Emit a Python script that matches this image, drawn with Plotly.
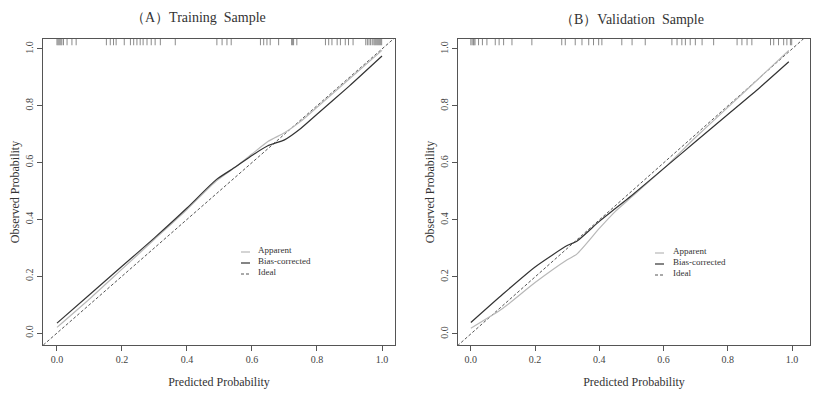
import plotly.graph_objects as go

# ---------------- data ----------------
a_x = [0.0, 0.1, 0.2, 0.3, 0.4, 0.49, 0.55, 0.6, 0.65, 0.7, 0.75, 0.8, 0.9, 1.0]
a_apparent = [0.02, 0.12, 0.225, 0.33, 0.435, 0.535, 0.585, 0.63, 0.675, 0.705, 0.745, 0.795, 0.895, 0.995]
a_bias = [0.035, 0.135, 0.235, 0.335, 0.44, 0.54, 0.585, 0.625, 0.66, 0.68, 0.72, 0.77, 0.87, 0.975]

b_x = [0.0, 0.1, 0.2, 0.3, 0.33, 0.4, 0.45, 0.5, 0.6, 0.7, 0.8, 0.9, 0.99]
b_apparent = [0.02, 0.09, 0.18, 0.26, 0.28, 0.37, 0.43, 0.48, 0.58, 0.69, 0.795, 0.9, 0.995]
b_bias = [0.04, 0.14, 0.235, 0.31, 0.325, 0.395, 0.44, 0.485, 0.58, 0.675, 0.77, 0.865, 0.955]

a_rug = [0.0, 0.003, 0.006, 0.009, 0.012, 0.015, 0.02, 0.031, 0.046, 0.059,
         0.152, 0.164, 0.174, 0.182, 0.207, 0.226, 0.236, 0.246, 0.256, 0.265,
         0.277, 0.29, 0.302, 0.318, 0.364, 0.492, 0.508, 0.523, 0.536,
         0.626, 0.636, 0.646, 0.656, 0.682, 0.722, 0.725, 0.728, 0.738,
         0.826, 0.836, 0.846, 0.862, 0.872, 0.887, 0.897, 0.911,
         0.95, 0.955, 0.96, 0.965, 0.97, 0.975, 0.978, 0.981, 0.984, 0.987,
         0.99, 0.993, 0.996, 0.999]
b_rug = [0.0, 0.004, 0.008, 0.01, 0.013, 0.024, 0.036, 0.05, 0.076, 0.088,
         0.102, 0.128, 0.19, 0.283, 0.294, 0.325, 0.346, 0.367, 0.382, 0.398,
         0.408, 0.47, 0.502, 0.543, 0.626, 0.642, 0.657, 0.668, 0.683, 0.699,
         0.72, 0.756, 0.829, 0.844, 0.86, 0.875, 0.933, 0.943, 0.958, 0.974,
         0.984, 0.995, 0.999]

ticks = [0.0, 0.2, 0.4, 0.6, 0.8, 1.0]
tick_text = ["0.0", "0.2", "0.4", "0.6", "0.8", "1.0"]
titles = ["（A）Training  Sample", "（B）Validation  Sample"]
legend_names = ["Apparent", "Bias-corrected", "Ideal"]

SERIF = "Liberation Serif, Times New Roman, serif"
W, H = 824, 396
C_APP = "#b8b8b8"
C_BIAS = "#333333"
C_IDEAL = "#555555"
DASH = "3px,2px"

fig = go.Figure()


def rug_xy(vals, y0, y1):
    xs, ys = [], []
    for v in vals:
        xs += [v, v, None]
        ys += [y0, y1, None]
    return xs, ys


panels = [
    dict(x=a_x, app=a_apparent, bias=a_bias, rug=a_rug, xa="x", ya="y",
         xr=[-0.043, 1.04], yr=[-0.042, 1.035]),
    dict(x=b_x, app=b_apparent, bias=b_bias, rug=b_rug, xa="x2", ya="y2",
         xr=[-0.04, 1.056], yr=[-0.039, 1.035]),
]

for p in panels:
    fig.add_trace(go.Scatter(x=[-0.1, 1.1], y=[-0.1, 1.1], mode="lines",
                             line=dict(color=C_IDEAL, width=1, dash=DASH),
                             name="Ideal", showlegend=False,
                             xaxis=p["xa"], yaxis=p["ya"]))
    fig.add_trace(go.Scatter(x=p["x"], y=p["app"], mode="lines",
                             line=dict(color=C_APP, width=1.2, shape="spline", smoothing=0.6),
                             name="Apparent", showlegend=False,
                             xaxis=p["xa"], yaxis=p["ya"]))
    fig.add_trace(go.Scatter(x=p["x"], y=p["bias"], mode="lines",
                             line=dict(color=C_BIAS, width=1.2, shape="spline", smoothing=0.6),
                             name="Bias-corrected", showlegend=False,
                             xaxis=p["xa"], yaxis=p["ya"]))
    rx, ry = rug_xy(p["rug"], 1.013, p["yr"][1])
    fig.add_trace(go.Scatter(x=rx, y=ry, mode="lines",
                             line=dict(color="#8a8a8a", width=1),
                             showlegend=False, hoverinfo="skip",
                             xaxis=p["xa"], yaxis=p["ya"]))

axis_common = dict(
    showgrid=False, zeroline=False, showline=True, mirror=True, automargin=False,
    linecolor="#555555", linewidth=1, ticks="outside", ticklen=5,
    tickcolor="#555555", tickvals=ticks, ticktext=tick_text,
    tickfont=dict(family=SERIF, size=10, color="#444444"),
)

x_domains = [[43 / W, 395 / W], [458 / W, 810 / W]]
y_domain = [1 - 345 / H, 1 - 39 / H]

layout = dict(
    width=W, height=H,
    margin=dict(l=0, r=0, t=0, b=0),
    paper_bgcolor="white", plot_bgcolor="white",
    font=dict(family=SERIF, color="#333333"),
    showlegend=False,
)

for i, p in enumerate(panels):
    xk = "xaxis" if i == 0 else "xaxis2"
    yk = "yaxis" if i == 0 else "yaxis2"
    layout[xk] = dict(axis_common, domain=x_domains[i], range=p["xr"],
                      anchor="y" if i == 0 else "y2",
                      title=dict(text="Predicted Probability",
                                 font=dict(family=SERIF, size=12, color="#333333"),
                                 standoff=13))
    layout[yk] = dict(axis_common, domain=y_domain, range=p["yr"],
                      anchor="x" if i == 0 else "x2", tickangle=-90,
                      title=dict(text="Observed Probability",
                                 font=dict(family=SERIF, size=12, color="#333333"),
                                 standoff=1))

fig.update_layout(**layout)

# panel titles
title_pos = [(198, 17), (632, 20)]
for t, (tx, ty) in zip(titles, title_pos):
    fig.add_annotation(text=t, xref="paper", yref="paper",
                       x=tx / W, y=1 - ty / H, xanchor="center", yanchor="middle",
                       showarrow=False,
                       font=dict(family=SERIF, size=14, color="#333333"))

# manual legends (short sample lines as in the R calibration plot)
legend_specs = [
    dict(x0=241, x1=250, tx=256, rows=[250, 261, 272]),
    dict(x0=655, x1=664, tx=671, rows=[251, 262, 273]),
]
styles = [dict(color=C_APP, width=1.2), dict(color=C_BIAS, width=1.2),
          dict(color=C_IDEAL, width=1, dash=DASH)]
for spec in legend_specs:
    for name, row, st in zip(legend_names, spec["rows"], styles):
        fig.add_shape(type="line", xref="paper", yref="paper",
                      x0=spec["x0"] / W, x1=spec["x1"] / W,
                      y0=1 - (row + 2) / H, y1=1 - (row + 2) / H,
                      line=st)
        fig.add_annotation(text=name, xref="paper", yref="paper",
                           x=spec["tx"] / W, y=1 - row / H,
                           xanchor="left", yanchor="middle", showarrow=False,
                           font=dict(family=SERIF, size=9, color="#333333"))

fig.write_html("out.html", config={"displayModeBar": False},
               post_script="document.body.style.margin='0';")
